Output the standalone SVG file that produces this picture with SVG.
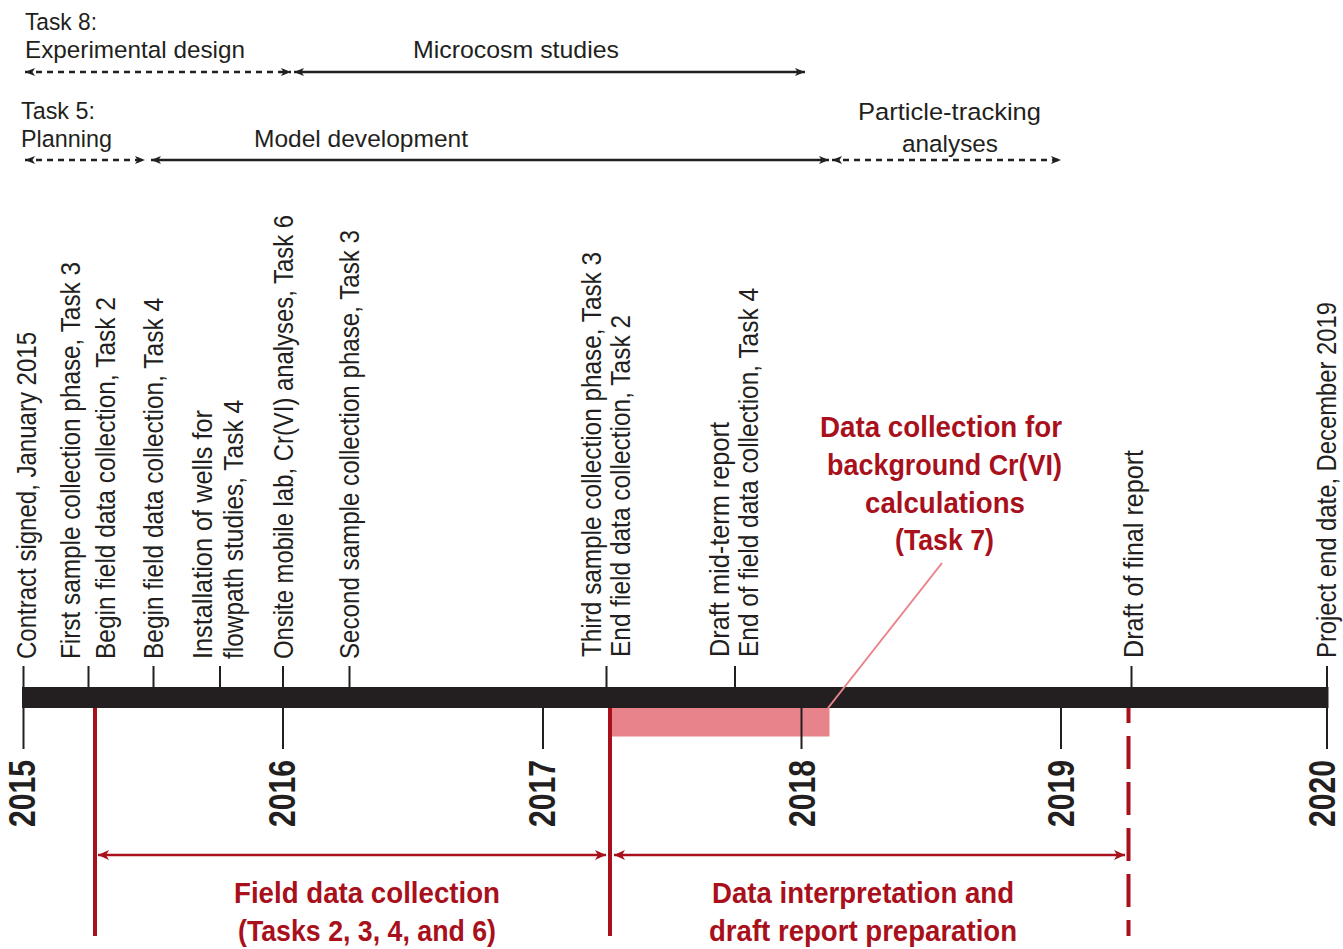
<svg xmlns="http://www.w3.org/2000/svg" width="1343" height="949" viewBox="0 0 1343 949">
<style>
.lbl{font-family:"Liberation Sans",Arial,sans-serif;font-size:24.5px;fill:#231F20}
.vl{font-family:"Liberation Sans",Arial,sans-serif;font-size:28px;fill:#231F20}
.yr{font-family:"Liberation Sans",Arial,sans-serif;font-size:37px;font-weight:bold;fill:#231F20}
.red{font-family:"Liberation Sans",Arial,sans-serif;font-size:29px;font-weight:bold;fill:#A8101C}
.tick{stroke:#231F20;stroke-width:2}
.blk{stroke:#231F20;stroke-width:2.5;fill:none}
.dash{stroke-dasharray:6 5}
.rl{stroke:#A8101C;stroke-width:4;fill:none}
.ra{stroke:#A8101C;stroke-width:2.5;fill:none}
</style>
<defs>
<marker id="ah" markerUnits="userSpaceOnUse" viewBox="0 0 10 8" markerWidth="10" markerHeight="8" refX="10" refY="4" orient="auto-start-reverse">
<path d="M0,0 L10,4 L0,8 L2.5,4 z" fill="#231F20"/>
</marker>
<marker id="rh" markerUnits="userSpaceOnUse" viewBox="0 0 11 10" markerWidth="11" markerHeight="10" refX="11" refY="5" orient="auto-start-reverse">
<path d="M0,0 L11,5 L0,10 L3,5 z" fill="#A8101C"/>
</marker>
</defs>
<rect width="1343" height="949" fill="#ffffff"/>

<!-- Top task labels -->
<g id="task8">
<text class="lbl" x="25" y="30" textLength="72" lengthAdjust="spacingAndGlyphs">Task 8:</text>
<text class="lbl" x="25" y="58" textLength="220" lengthAdjust="spacingAndGlyphs">Experimental design</text>
</g>
<g id="microcosm">
<text class="lbl" x="413" y="58" textLength="206" lengthAdjust="spacingAndGlyphs">Microcosm studies</text>
</g>
<g id="task5">
<text class="lbl" x="21" y="119" textLength="74" lengthAdjust="spacingAndGlyphs">Task 5:</text>
<text class="lbl" x="21" y="147" textLength="91" lengthAdjust="spacingAndGlyphs">Planning</text>
</g>
<g id="model">
<text class="lbl" x="254" y="147" textLength="214" lengthAdjust="spacingAndGlyphs">Model development</text>
</g>
<g id="particle">
<text class="lbl" x="858" y="120" textLength="183" lengthAdjust="spacingAndGlyphs">Particle-tracking</text>
<text class="lbl" x="902" y="152" textLength="96" lengthAdjust="spacingAndGlyphs">analyses</text>
</g>

<!-- Task 7 highlight -->
<g id="task7">
<rect x="610" y="707" width="219.5" height="29.5" fill="#E9838B"/>
<text class="red" text-anchor="middle" x="941" y="437" textLength="242" lengthAdjust="spacingAndGlyphs">Data collection for</text>
<text class="red" text-anchor="middle" x="944.5" y="475" textLength="235" lengthAdjust="spacingAndGlyphs">background Cr(VI)</text>
<text class="red" text-anchor="middle" x="945" y="513" textLength="160" lengthAdjust="spacingAndGlyphs">calculations</text>
<text class="red" text-anchor="middle" x="944.5" y="550" textLength="99" lengthAdjust="spacingAndGlyphs">(Task 7)</text>
</g>

<!-- Phase boundaries -->
<g id="phases">
<line class="rl" x1="95" y1="707" x2="95" y2="936"/>
<line class="rl" x1="610" y1="707" x2="610" y2="936"/>
<line class="rl" x1="1128.5" y1="708" x2="1128.5" y2="936" stroke-dasharray="33 13" stroke-dashoffset="18"/>
<text class="red" x="234" y="903" textLength="266" lengthAdjust="spacingAndGlyphs">Field data collection</text>
<text class="red" x="238" y="941" textLength="258" lengthAdjust="spacingAndGlyphs">(Tasks 2, 3, 4, and 6)</text>
<text class="red" x="712" y="903" textLength="302" lengthAdjust="spacingAndGlyphs">Data interpretation and</text>
<text class="red" x="709" y="941" textLength="308" lengthAdjust="spacingAndGlyphs">draft report preparation</text>
</g>

<!-- Timeline bar -->
<g id="timeline">
<rect x="22" y="687" width="1306.5" height="21" fill="#231F20"/>
<line class="tick" x1="23.5" y1="707" x2="23.5" y2="749"/>
<line class="tick" x1="283" y1="707" x2="283" y2="749"/>
<line class="tick" x1="543" y1="707" x2="543" y2="749"/>
<line class="tick" x1="801.5" y1="707" x2="801.5" y2="749"/>
<line class="tick" x1="1061" y1="707" x2="1061" y2="749"/>
<line class="tick" x1="1327" y1="707" x2="1327" y2="749"/>
<text class="yr" transform="translate(35,827) rotate(-90)" textLength="67" lengthAdjust="spacingAndGlyphs">2015</text>
<text class="yr" transform="translate(295,827) rotate(-90)" textLength="67" lengthAdjust="spacingAndGlyphs">2016</text>
<text class="yr" transform="translate(555,827) rotate(-90)" textLength="67" lengthAdjust="spacingAndGlyphs">2017</text>
<text class="yr" transform="translate(815,827) rotate(-90)" textLength="67" lengthAdjust="spacingAndGlyphs">2018</text>
<text class="yr" transform="translate(1074,827) rotate(-90)" textLength="67" lengthAdjust="spacingAndGlyphs">2019</text>
<text class="yr" transform="translate(1335,827) rotate(-90)" textLength="67" lengthAdjust="spacingAndGlyphs">2020</text>
</g>

<!-- Events -->
<g id="ev-contract">
<line class="tick" x1="23.5" y1="666" x2="23.5" y2="688"/>
<text class="vl" transform="translate(36,659) rotate(-90)" textLength="327" lengthAdjust="spacingAndGlyphs">Contract signed, January 2015</text>
</g>
<g id="ev-first">
<line class="tick" x1="88.5" y1="666" x2="88.5" y2="688"/>
<text class="vl" transform="translate(80,659) rotate(-90)" textLength="397" lengthAdjust="spacingAndGlyphs">First sample collection phase, Task 3</text>
<text class="vl" transform="translate(115,659) rotate(-90)" textLength="362" lengthAdjust="spacingAndGlyphs">Begin field data collection, Task 2</text>
</g>
<g id="ev-begin4">
<line class="tick" x1="153.5" y1="666" x2="153.5" y2="688"/>
<text class="vl" transform="translate(163,659) rotate(-90)" textLength="361" lengthAdjust="spacingAndGlyphs">Begin field data collection, Task 4</text>
</g>
<g id="ev-wells">
<line class="tick" x1="220" y1="666" x2="220" y2="688"/>
<text class="vl" transform="translate(212,659) rotate(-90)" textLength="249" lengthAdjust="spacingAndGlyphs">Installation of wells for</text>
<text class="vl" transform="translate(243,659) rotate(-90)" textLength="259" lengthAdjust="spacingAndGlyphs">flowpath studies, Task 4</text>
</g>
<g id="ev-onsite">
<line class="tick" x1="283" y1="666" x2="283" y2="688"/>
<text class="vl" transform="translate(293,659) rotate(-90)" textLength="444" lengthAdjust="spacingAndGlyphs">Onsite mobile lab, Cr(VI) analyses, Task 6</text>
</g>
<g id="ev-second">
<line class="tick" x1="349.5" y1="666" x2="349.5" y2="688"/>
<text class="vl" transform="translate(359,659) rotate(-90)" textLength="429" lengthAdjust="spacingAndGlyphs">Second sample collection phase, Task 3</text>
</g>
<g id="ev-third">
<line class="tick" x1="606.5" y1="666" x2="606.5" y2="688"/>
<text class="vl" transform="translate(601,657) rotate(-90)" textLength="405" lengthAdjust="spacingAndGlyphs">Third sample collection phase, Task 3</text>
<text class="vl" transform="translate(630,657) rotate(-90)" textLength="342" lengthAdjust="spacingAndGlyphs">End field data collection, Task 2</text>
</g>
<g id="ev-midterm">
<line class="tick" x1="735" y1="666" x2="735" y2="688"/>
<text class="vl" transform="translate(729,657) rotate(-90)" textLength="235" lengthAdjust="spacingAndGlyphs">Draft mid-term report</text>
<text class="vl" transform="translate(758,657) rotate(-90)" textLength="369" lengthAdjust="spacingAndGlyphs">End of field data collection, Task 4</text>
</g>
<g id="ev-final">
<line class="tick" x1="1131.5" y1="666" x2="1131.5" y2="688"/>
<text class="vl" transform="translate(1143,658) rotate(-90)" textLength="208" lengthAdjust="spacingAndGlyphs">Draft of final report</text>
</g>
<g id="ev-end">
<line class="tick" x1="1327" y1="666" x2="1327" y2="688"/>
<text class="vl" transform="translate(1336,658) rotate(-90)" textLength="356" lengthAdjust="spacingAndGlyphs">Project end date, December 2019</text>
</g>

<!-- Connectors -->
<g id="connectors">
<line class="blk dash" x1="25" y1="72" x2="291" y2="72" marker-start="url(#ah)" marker-end="url(#ah)"/>
<line class="blk" x1="294" y1="72" x2="805" y2="72" marker-start="url(#ah)" marker-end="url(#ah)"/>
<line class="blk dash" x1="25" y1="160" x2="145" y2="160" marker-start="url(#ah)" marker-end="url(#ah)"/>
<line class="blk" x1="151" y1="160" x2="829" y2="160" marker-start="url(#ah)" marker-end="url(#ah)"/>
<line class="blk dash" x1="832" y1="160" x2="1061" y2="160" marker-start="url(#ah)" marker-end="url(#ah)"/>
<line class="ra" x1="98" y1="855" x2="606" y2="855" marker-start="url(#rh)" marker-end="url(#rh)"/>
<line class="ra" x1="614" y1="855" x2="1125" y2="855" marker-start="url(#rh)" marker-end="url(#rh)"/>
<line x1="942" y1="563" x2="828" y2="708" stroke="#E9838B" stroke-width="2"/>
</g>
</svg>
